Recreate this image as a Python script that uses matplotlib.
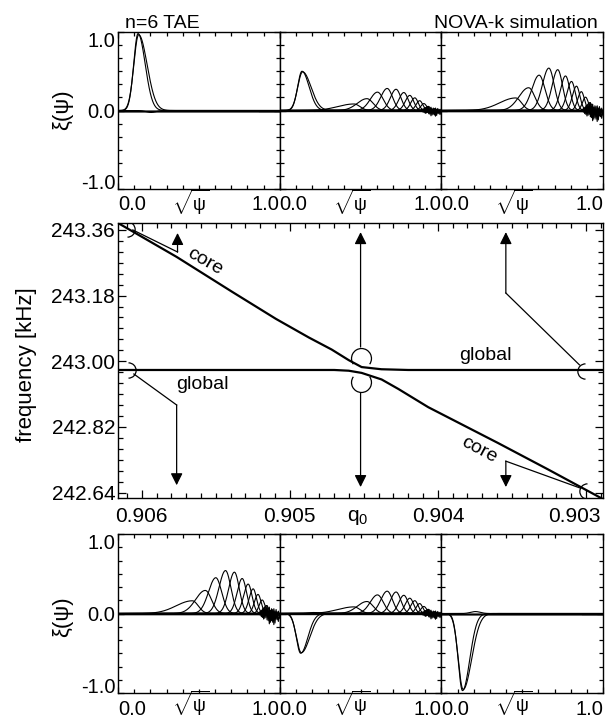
import numpy as np
import matplotlib
matplotlib.use('Agg')
import matplotlib.pyplot as plt
from matplotlib.path import Path
from matplotlib.ticker import MultipleLocator, FixedLocator

plt.rcParams['font.family'] = ['Liberation Sans', 'DejaVu Sans']
plt.rcParams['mathtext.fontset'] = 'custom'
plt.rcParams['mathtext.rm'] = 'Liberation Sans'
plt.rcParams['mathtext.it'] = 'Liberation Sans:italic'
plt.rcParams['mathtext.sf'] = 'Liberation Sans'

# ---------------- frequency branches (middle panel) ----------------
UPPER_Q = [0.90616, 0.905764, 0.905388, 0.905093, 0.904871, 0.904717, 0.904602,
           0.904515, 0.904381, 0.904200, 0.902885]
UPPER_F = [243.379, 243.286, 243.190, 243.116, 243.065, 243.032, 243.003,
           242.984, 242.978, 242.976, 242.976]
LOWER_Q = [0.90616, 0.904700, 0.904602, 0.904515, 0.904380, 0.904267, 0.904065,
           0.903595, 0.903259, 0.902885]
LOWER_F = [242.976, 242.976, 242.974, 242.968, 242.950, 242.924, 242.874,
           242.776, 242.704, 242.622]

Q_TICKS = [0.906, 0.905, 0.904, 0.903]
F_TICKS = [243.36, 243.18, 243.00, 242.82, 242.64]

# ---------------- mode structures (small panels) ----------------
# core-localised harmonics: amplitude, offset of centre, left/right widths
CORE_AMP = [1.0, 0.985, -0.025]
CORE_DC = [0.0, 0.004, 0.08]
CORE_WL = [0.027, 0.030, 0.03]
CORE_WR = [0.044, 0.052, 0.03]

# global-mode poloidal harmonics
GLOB_C = [0.46, 0.54, 0.605, 0.665, 0.72, 0.768, 0.805, 0.836, 0.866, 0.892, 0.918]
GLOB_A = [0.16, 0.29, 0.45, 0.54, 0.52, 0.44, 0.37, 0.31, 0.24, 0.17, 0.10]
GLOB_WL = [0.10, 0.06, 0.045, 0.04, 0.035, 0.031, 0.028, 0.025, 0.022, 0.019, 0.016]
GLOB_WR = [0.036, 0.038, 0.036, 0.033, 0.03, 0.027, 0.024, 0.021, 0.019, 0.017, 0.014]

# edge noise of the global mode
NOISE_U = [0.87, 0.88, 0.887, 0.894, 0.901, 0.908, 0.915, 0.922, 0.929, 0.936,
           0.943, 0.950, 0.957, 0.964, 0.971, 0.978, 0.985, 0.992, 1.0]
NOISE_A = [0.0, 0.03, -0.02, 0.06, -0.04, 0.08, -0.05, 0.07, -0.09, 0.05,
           -0.11, 0.06, -0.08, 0.03, -0.12, 0.02, -0.06, 0.01, -0.04]
NOISE_B = [0.0, -0.02, 0.04, -0.05, 0.07, -0.06, 0.09, -0.08, 0.06, -0.13,
           0.04, -0.09, 0.05, -0.14, 0.03, -0.07, 0.02, -0.10, 0.0]
NOISE_C = [0.0, 0.01, -0.04, 0.03, -0.07, 0.05, -0.03, 0.10, -0.06, 0.08,
           -0.05, 0.04, -0.11, 0.06, -0.04, 0.05, -0.08, 0.03, -0.06]

# per-panel weights (read from peak heights)
TOP_CORE_W = [0.98, 0.5, 0.0]
TOP_CORE_C = [0.124, 0.138, 0.13]
TOP_GLOB_W = [0.0, 0.52, 1.0]
BOT_CORE_W = [0.0, -0.5, -0.97]
BOT_CORE_C = [0.13, 0.13, 0.131]
BOT_GLOB_W = [1.0, 0.52, 0.0]

U = np.linspace(0.0, 1.0, 801)

fig = plt.figure(figsize=(6.1, 7.21), dpi=100)


def fx(px):
    return px / 610.0


def fy(py):
    return 1.0 - py / 721.0


L, R = 118, 603
PW = (R - L) / 3.0


def bell(u, c, wl, wr):
    w = np.where(u < c, wl, wr)
    return np.exp(-0.5 * ((u - c) / w) ** 2)


def small_panel(i, top_px, bot_px, core_w, core_c, glob_w, lab_pad, base_off):
    rect = [fx(L + i * PW), fy(bot_px), fx(PW), (bot_px - top_px) / 721.0]
    ax = fig.add_axes(rect)
    for a, dc, wl, wr in zip(CORE_AMP, CORE_DC, CORE_WL, CORE_WR):
        ax.plot(U, core_w * a * bell(U, core_c + dc, wl, wr), color='k', lw=0.8)
    for c, a, wl, wr in zip(GLOB_C, GLOB_A, GLOB_WL, GLOB_WR):
        ax.plot(U, glob_w * a * bell(U, c, wl, wr), color='k', lw=0.8)
    for nz in (NOISE_A, NOISE_B, NOISE_C):
        ax.plot(NOISE_U, glob_w * np.array(nz), color='k', lw=0.8)
    ax.axhline(0, color='k', lw=1.0)
    ax.set_xlim(0, 1)
    ax.set_ylim(-1, 1)
    ax.xaxis.set_major_locator(FixedLocator([0, 1]))
    ax.xaxis.set_minor_locator(MultipleLocator(0.1))
    ax.yaxis.set_major_locator(FixedLocator([-1, 0, 1]))
    ax.yaxis.set_minor_locator(MultipleLocator(1 / 6))
    ax.set_xticklabels(['0.0', '1.0'])
    if i == 0:
        ax.set_yticklabels(['-1.0', '0.0', '1.0'])
    else:
        ax.set_yticklabels([])
    ax.tick_params(which='both', direction='in', top=True, right=True,
                   labelsize=14.5, width=0.9)
    ax.tick_params(which='major', length=4)
    ax.tick_params(which='minor', length=3)
    ax.tick_params(axis='x', pad=lab_pad)
    ax.tick_params(axis='y', pad=2)
    xl = ax.get_xticklabels()
    xl[0].set_ha('left')
    xl[1].set_ha('right')
    if i == 0:
        yl = ax.get_yticklabels()
        yl[0].set_va('baseline')
        yl[2].set_va('top')
    for s in ax.spines.values():
        s.set_linewidth(1.0)
    ax.text(0.45, -base_off / (bot_px - top_px), r'$\sqrt{\mathrm{ψ}}$', transform=ax.transAxes,
            ha='center', va='baseline', fontsize=13)
    return ax


for i in range(3):
    small_panel(i, 32, 189, TOP_CORE_W[i], TOP_CORE_C[i], TOP_GLOB_W[i], 4.3, 22)
    small_panel(i, 534, 693, BOT_CORE_W[i], BOT_CORE_C[i], BOT_GLOB_W[i], 5.0, 19)

# ---------------- middle panel ----------------
ax = fig.add_axes([fx(L), fy(498), fx(R - L), 275 / 721.0])
ax.plot(UPPER_Q, UPPER_F, color='k', lw=1.6)
ax.plot(LOWER_Q, LOWER_F, color='k', lw=1.6)
ax.set_xlim(0.90616, 0.902885)
ax.set_ylim(242.625, 243.379)
ax.xaxis.set_major_locator(FixedLocator(Q_TICKS))
qlabels = ['%.3f' % v for v in Q_TICKS]
ax.set_xticklabels(qlabels[:-1] + [''])
ax.xaxis.set_minor_locator(MultipleLocator(0.0001))
ax.yaxis.set_major_locator(FixedLocator(F_TICKS))
ax.set_yticklabels(['%.2f' % v for v in F_TICKS])
ax.yaxis.set_minor_locator(MultipleLocator(0.03))
ax.tick_params(which='both', direction='in', top=True, right=True, labelsize=15, width=0.9)
ax.tick_params(which='major', length=6)
ax.tick_params(which='minor', length=3.5)
ax.tick_params(axis='x', pad=6.5)
ax.tick_params(axis='y', pad=2)
for s in ax.spines.values():
    s.set_linewidth(1.0)
# last q0 label kept inside the frame, as in the original
ax.annotate(qlabels[-1], xy=(1.0, 0.0), xycoords='axes fraction', xytext=(-2, -6.5),
            textcoords='offset points', ha='right', va='top', fontsize=15)

thin = dict(color='k', lw=0.9)
ap = dict(arrowstyle='-|>,head_length=0.6,head_width=0.3', lw=0.9, color='k',
          mutation_scale=12, shrinkA=0, shrinkB=0)

# top-left core marker
ax.plot([0.906060, 0.905758], [243.360, 243.2995], **thin)
ax.annotate('', xy=(0.905758, 243.3516), xytext=(0.905758, 243.2995), arrowprops=ap)
# left global marker
ax.plot([0.906053, 0.905764], [242.965, 242.880], **thin)
ax.annotate('', xy=(0.905764, 242.660), xytext=(0.905764, 242.880), arrowprops=ap)
# middle crossing
ax.annotate('', xy=(0.904522, 243.354), xytext=(0.904522, 243.039), arrowprops=ap)
ax.annotate('', xy=(0.904522, 242.655), xytext=(0.904522, 242.913), arrowprops=ap)
# right global
ax.plot([0.903044, 0.903541], [242.990, 243.187], **thin)
ax.annotate('', xy=(0.903541, 243.354), xytext=(0.903541, 243.187), arrowprops=ap)
# right core
ax.plot([0.903037, 0.903541], [242.652, 242.726], **thin)
ax.annotate('', xy=(0.903541, 242.655), xytext=(0.903541, 242.726), arrowprops=ap)

arcs = [
    (0.906100, 243.362, -90, 90, 11),
    (0.906093, 242.977, -90, 90, 11),
    (0.904522, 243.009, -35, 215, 14.5),
    (0.904522, 242.943, 145, 395, 14.5),
    (0.903004, 242.974, 90, 270, 11),
    (0.902991, 242.644, 90, 270, 11),
]
for q, f, t1, t2, ms in arcs:
    ax.plot([q], [f], marker=Path.arc(t1, t2), ms=ms, mfc='none', mec='k', mew=0.9,
            linestyle='none')

ax.text(0.905576, 243.272, 'core', rotation=-30, ha='center', va='center', fontsize=14)
ax.text(0.905590, 242.935, 'global', ha='center', va='center', fontsize=14)
ax.text(0.903676, 243.017, 'global', ha='center', va='center', fontsize=14)
ax.text(0.903723, 242.756, 'core', rotation=-28, ha='center', va='center', fontsize=14)

# ---------------- figure texts ----------------
fig.text(fx(125), fy(28), 'n=6 TAE', ha='left', va='baseline', fontsize=14)
fig.text(fx(598), fy(28), 'NOVA-k simulation', ha='right', va='baseline', fontsize=14)
fig.text(fx(27), fy(365), 'frequency [kHz]', rotation=90, ha='center', va='center', fontsize=16)
fig.text(fx(63), fy(110), 'ξ(ψ)', rotation=90, ha='center', va='center', fontsize=16)
fig.text(fx(63), fy(617), 'ξ(ψ)', rotation=90, ha='center', va='center', fontsize=16)
fig.text(fx(358), fy(521), 'q$_0$', ha='center', va='baseline', fontsize=15)

fig.savefig('out.png', dpi=100)
